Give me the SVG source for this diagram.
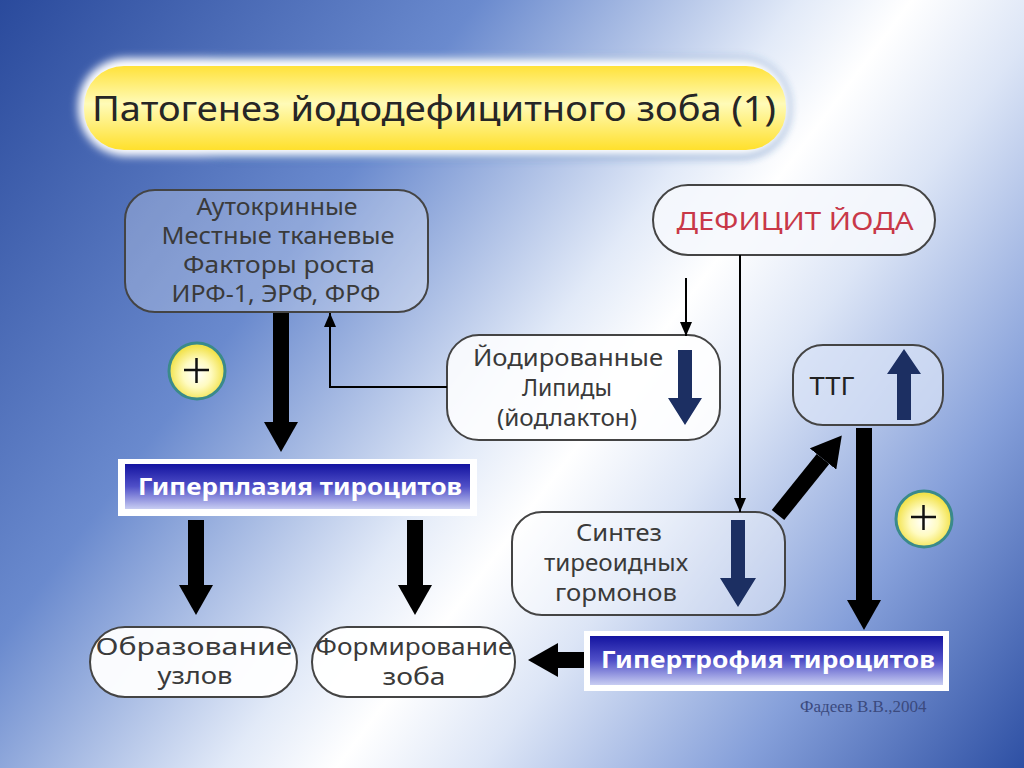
<svg xmlns="http://www.w3.org/2000/svg" width="1024" height="768" viewBox="0 0 1024 768">
<defs>
<linearGradient id="bg" gradientUnits="userSpaceOnUse" x1="0" y1="0" x2="1024" y2="768">
<stop offset="0" stop-color="#2a4a9c"/>
<stop offset="0.3" stop-color="#6a8ace"/>
<stop offset="0.5" stop-color="#e2eaf8"/>
<stop offset="0.57" stop-color="#ffffff"/>
<stop offset="0.66" stop-color="#dce5f6"/>
<stop offset="0.82" stop-color="#86a0da"/>
<stop offset="1" stop-color="#2e50a4"/>
</linearGradient>
<linearGradient id="yellow" x1="0" y1="0" x2="0" y2="1">
<stop offset="0" stop-color="#ffe23a"/>
<stop offset="0.45" stop-color="#fffbb8"/>
<stop offset="1" stop-color="#ffe02c"/>
</linearGradient>
<linearGradient id="bar" x1="0" y1="0" x2="0" y2="1">
<stop offset="0" stop-color="#1414a0"/>
<stop offset="0.5" stop-color="#5050c8"/>
<stop offset="1" stop-color="#c8cdf2"/>
</linearGradient>
<radialGradient id="plus" cx="0.5" cy="0.55" r="0.5">
<stop offset="0" stop-color="#ffffff"/>
<stop offset="0.5" stop-color="#fffbc0"/>
<stop offset="1" stop-color="#f2e24a"/>
</radialGradient>
<filter id="blur" x="-10%" y="-30%" width="120%" height="160%"><feGaussianBlur stdDeviation="4"/></filter>
<marker id="thick" markerUnits="userSpaceOnUse" viewBox="0 -17 30 34" refX="0" refY="0" markerWidth="30" markerHeight="34" orient="auto">
<path d="M0,-17 L30,0 L0,17 z" fill="#000"/>
</marker>
<marker id="thin" markerUnits="userSpaceOnUse" viewBox="0 -6 14 12" refX="14" refY="0" markerWidth="14" markerHeight="12" orient="auto">
<path d="M0,-6 L14,0 L0,6 z" fill="#000"/>
</marker>
<style>
.t{font-family:"Noto Sans","DejaVu Sans",sans-serif;fill:#3a3a3a;font-size:23px;text-anchor:middle}
.box{stroke:#444;stroke-width:2}
.bt{font-family:"Noto Sans","DejaVu Sans",sans-serif;fill:#ffffff;font-size:24px;font-weight:bold}
.thk{stroke:#000;stroke-width:16;fill:none;marker-end:url(#thick)}
.thn{stroke:#000;stroke-width:2;fill:none;marker-end:url(#thin)}
.navy{fill:#1c2f62}
.pl{fill:url(#plus);stroke:#3a8a8a;stroke-width:3}
</style>
</defs>
<rect width="1024" height="768" fill="url(#bg)"/>

<g id="title">
<rect x="180" y="58" width="610" height="100" rx="48" fill="#2058a8" opacity="0.6" filter="url(#blur)"/>
<rect x="78" y="58" width="712" height="98" rx="48" fill="#ffffff" filter="url(#blur)"/>
<rect x="84" y="66" width="702" height="84" rx="40" fill="url(#yellow)"/>
<text x="92" y="121" font-family="'Noto Sans','DejaVu Sans',sans-serif" font-size="35" fill="#262626" textLength="684" lengthAdjust="spacingAndGlyphs">Патогенез йододефицитного зоба (1)</text>
</g>

<g id="autocrine">
<rect class="box" x="125" y="190" width="303" height="122" rx="30" fill="#ffffff" fill-opacity="0.25"/>
<text class="t" x="277" y="215" textLength="161" lengthAdjust="spacingAndGlyphs">Аутокринные</text>
<text class="t" x="278" y="244" textLength="233" lengthAdjust="spacingAndGlyphs">Местные тканевые</text>
<text class="t" x="279" y="273" textLength="192" lengthAdjust="spacingAndGlyphs">Факторы роста</text>
<text class="t" x="276" y="302" textLength="209" lengthAdjust="spacingAndGlyphs">ИРФ-1, ЭРФ, ФРФ</text>
</g>

<g id="deficit">
<rect class="box" x="653" y="185" width="282" height="70" rx="35" fill="#f6f8fd" fill-opacity="0.85"/>
<text x="795" y="230" font-family="'Noto Sans','DejaVu Sans',sans-serif" font-size="26" fill="#c83848" text-anchor="middle" textLength="237" lengthAdjust="spacingAndGlyphs">ДЕФИЦИТ ЙОДА</text>
</g>

<g id="lipids">
<rect class="box" x="447" y="335" width="273" height="105" rx="32" fill="#ffffff" fill-opacity="0.85"/>
<text class="t" x="568" y="366" fill="#555" textLength="190" lengthAdjust="spacingAndGlyphs">Йодированные</text>
<text class="t" x="567" y="396" fill="#555" textLength="90" lengthAdjust="spacingAndGlyphs">Липиды</text>
<text class="t" x="567" y="426" fill="#555" textLength="140" lengthAdjust="spacingAndGlyphs">(йодлактон)</text>
<polygon class="navy" points="678,350 692,350 692,398 702,398 685,425 668,398 678,398"/>
</g>

<g id="ttg">
<rect class="box" x="793" y="345" width="150" height="80" rx="30" fill="#d8e2f6" fill-opacity="0.7"/>
<text x="832" y="395" font-family="'Noto Sans','DejaVu Sans',sans-serif" font-size="25" fill="#222" text-anchor="middle" textLength="45" lengthAdjust="spacingAndGlyphs">ТТГ</text>
<polygon class="navy" points="904,349 921,374 911,374 911,420 897,420 897,374 887,374"/>
</g>

<g id="synthesis">
<rect class="box" x="512" y="512" width="273" height="103" rx="30" fill="#ffffff" fill-opacity="0.35"/>
<text class="t" x="619" y="541" textLength="86" lengthAdjust="spacingAndGlyphs">Синтез</text>
<text class="t" x="616" y="571" textLength="144" lengthAdjust="spacingAndGlyphs">тиреоидных</text>
<text class="t" x="616" y="601" textLength="122" lengthAdjust="spacingAndGlyphs">гормонов</text>
<polygon class="navy" points="731,520 745,520 745,578 756,578 738,607 720,578 731,578"/>
</g>

<g id="hyperplasia">
<rect x="118" y="459" width="359" height="57" fill="#ffffff"/>
<rect x="125" y="464" width="345" height="45" fill="url(#bar)"/>
<text class="bt" x="138" y="495" textLength="324" lengthAdjust="spacingAndGlyphs">Гиперплазия тироцитов</text>
</g>

<g id="hypertrophy">
<rect x="584" y="631" width="365" height="60" fill="#ffffff"/>
<rect x="590" y="636" width="353" height="49" fill="url(#bar)"/>
<text class="bt" x="601" y="668" textLength="334" lengthAdjust="spacingAndGlyphs">Гипертрофия тироцитов</text>
</g>

<g id="nodes-form">
<rect class="box" x="90" y="627" width="207" height="70" rx="35" fill="#ffffff" fill-opacity="0.95"/>
<text class="t" x="194" y="655" fill="#444" textLength="197" lengthAdjust="spacingAndGlyphs">Образование</text>
<text class="t" x="195" y="684" fill="#444" textLength="75" lengthAdjust="spacingAndGlyphs">узлов</text>
</g>

<g id="goiter">
<rect class="box" x="312" y="627" width="203" height="70" rx="35" fill="#ffffff" fill-opacity="0.95"/>
<text class="t" x="414" y="655" textLength="197" lengthAdjust="spacingAndGlyphs">Формирование</text>
<text class="t" x="414" y="685" textLength="63" lengthAdjust="spacingAndGlyphs">зоба</text>
</g>

<g id="plus-left">
<circle class="pl" cx="197" cy="371" r="28"/>
<path d="M184,370 H209 M196.5,358 V383" stroke="#111" stroke-width="2.5"/>
</g>

<g id="plus-right">
<circle class="pl" cx="924" cy="519" r="28"/>
<path d="M911,517 H936 M923.5,505 V530" stroke="#111" stroke-width="2.5"/>
</g>

<g id="connectors">
<line class="thk" x1="281" y1="313" x2="281" y2="422"/>
<polyline class="thn" points="447,387 330,387 330,313"/>
<line class="thn" x1="686" y1="278" x2="686" y2="336"/>
<line class="thn" x1="740" y1="255" x2="740" y2="512"/>
<line class="thk" x1="778" y1="515" x2="823" y2="459"/>
<line class="thk" x1="864" y1="428" x2="864" y2="600"/>
<line class="thk" x1="584" y1="660" x2="558" y2="660"/>
<line class="thk" x1="196" y1="520" x2="196" y2="585"/>
<line class="thk" x1="415" y1="520" x2="415" y2="585"/>
</g>

<text id="author" x="800" y="712" font-family="'Liberation Serif',serif" font-size="17" fill="#3b4a7e">Фадеев В.В.,2004</text>
</svg>
